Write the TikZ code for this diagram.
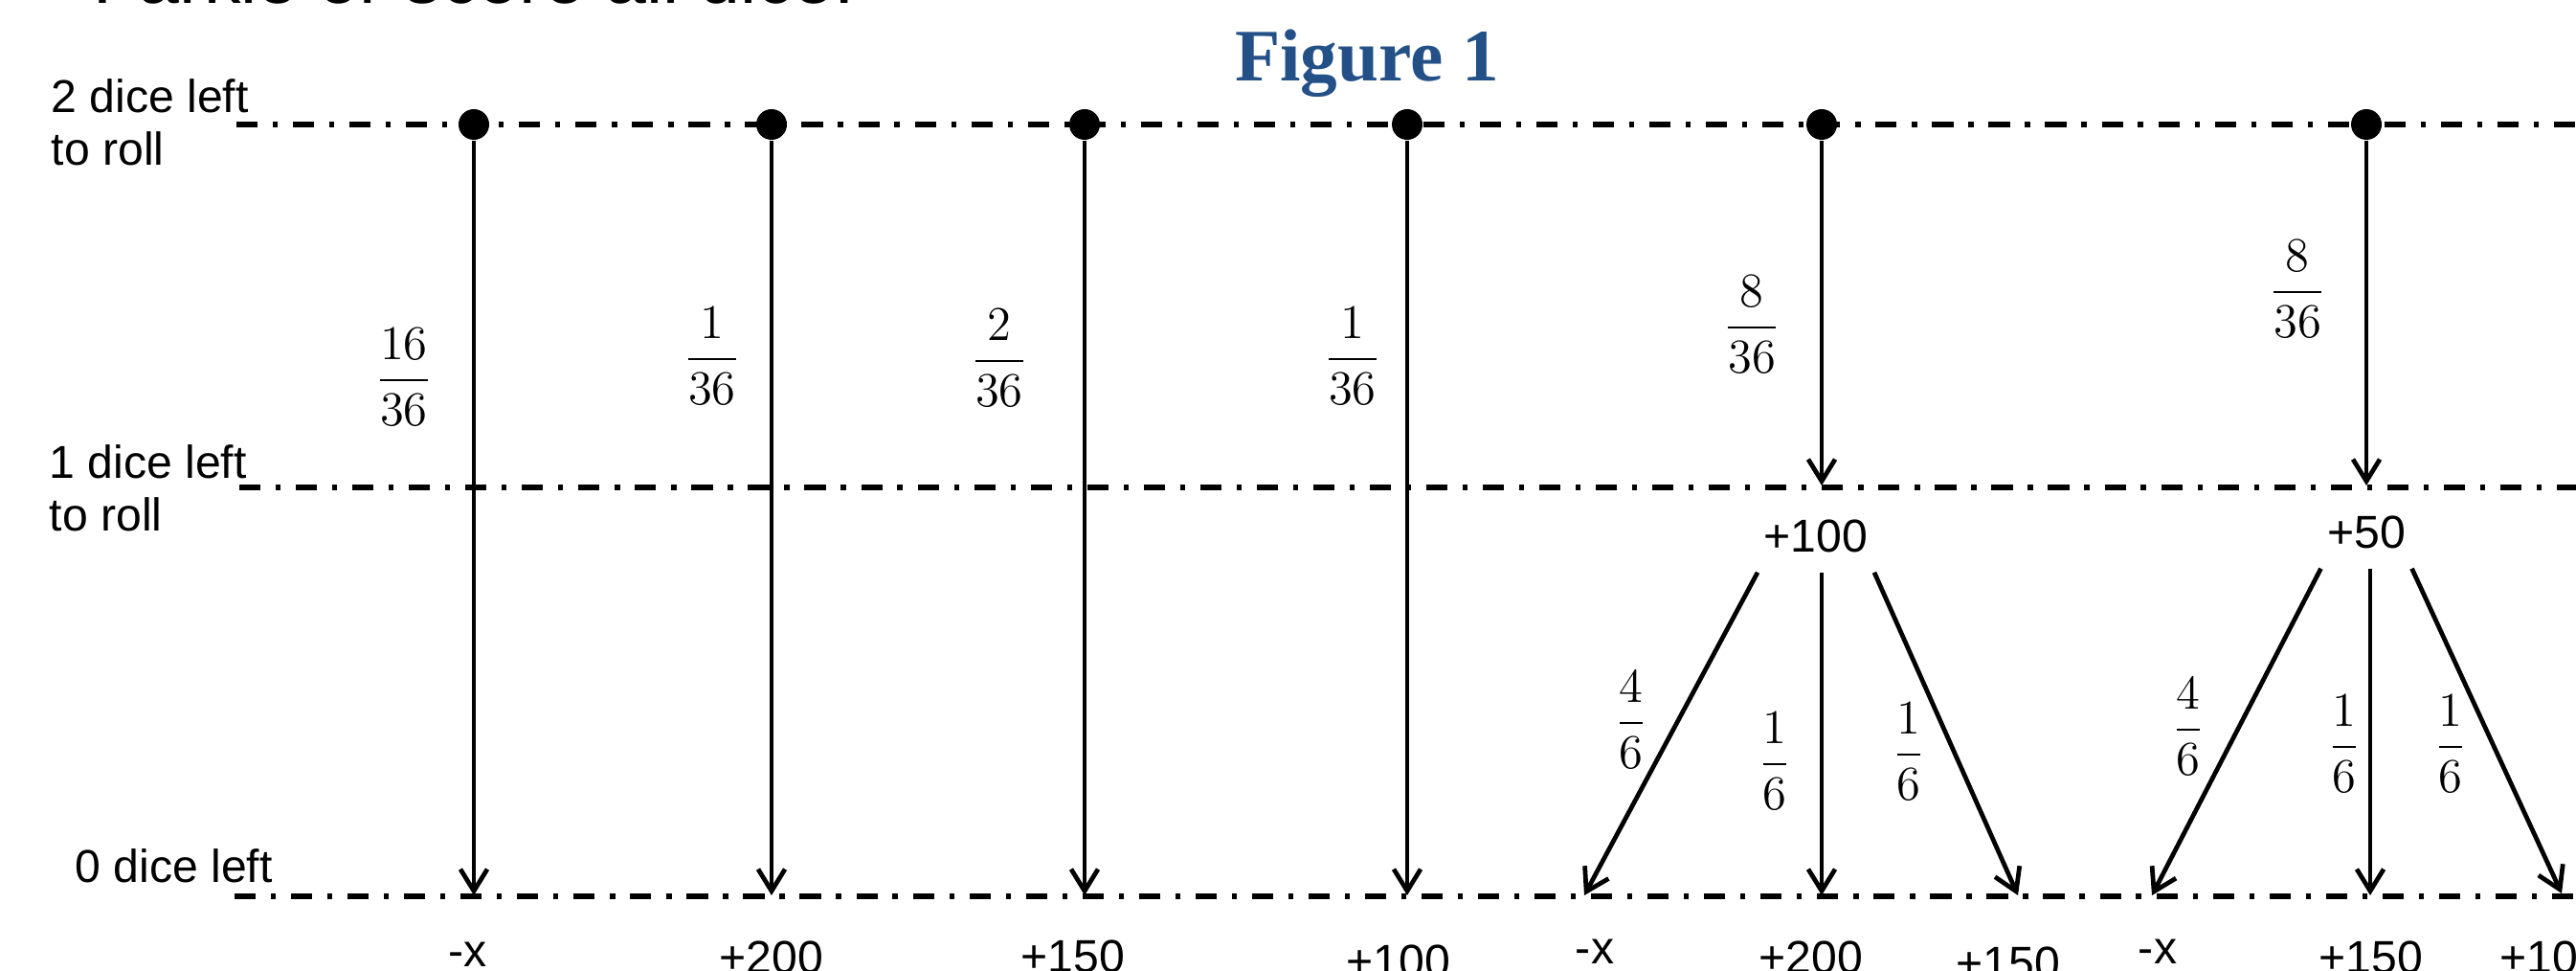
\documentclass[tikz,border=0pt]{standalone}
\usepackage{amsmath}
\usepackage{fontspec}
\setmainfont{Liberation Sans}
\newfontfamily\capfont{Liberation Serif}
\usetikzlibrary{arrows.meta}
\definecolor{figblue}{RGB}{36,80,136}

\begin{document}
\begin{tikzpicture}[
    farkDot/.style={circle,fill=black,minimum size=0.32cm,inner sep=0pt},
    farkLbl/.style={inner sep=0pt,font=\fontsize{13.7}{15.6}\selectfont},
    farkSum/.style={farkLbl,inner xsep=0.06cm,inner ysep=0.2cm},
    farkFrac/.style={inner sep=0pt,font=\fontsize{14.5}{17}\selectfont},
    farkLvl/.style={line width=1.8pt,dash pattern=on 6.3pt off 4.5pt on 1.5pt off 4.5pt},
    farkArr/.style={-{Straight Barb[length=6.5pt,width=8pt]},line width=1.35pt},
]
\useasboundingbox (0,0) rectangle (26.91,10.13);
\clip (0,0) rectangle (26.91,10.13);

% titles
\node[anchor=base west,inner sep=0pt,font=\fontsize{21.9}{26}\selectfont] (ttl) at (0.97,10.09) {Farkle or score all dice:};
\node[anchor=base,inner sep=0pt,font=\capfont\bfseries\fontsize{22}{26}\selectfont,text=figblue] (fig) at (14.28,9.28) {Figure 1};

% levels
\node[farkLbl,align=left,anchor=north west] (lv2) at (0.53,9.31) {2 dice left\\to roll};
\node[farkLbl,align=left,anchor=north west] (lv1) at (0.51,5.49) {1 dice left\\to roll};
\node[farkLbl,anchor=north west] (lv0) at (0.78,1.27) {0 dice left};
\coordinate (L2a) at (2.47,8.83); \coordinate (L2b) at (26.91,8.83);
\coordinate (L1a) at (2.50,5.04); \coordinate (L1b) at (26.91,5.04);
\coordinate (L0a) at (2.45,0.77); \coordinate (L0b) at (26.91,0.77);
\draw[farkLvl] (L2a) -- (L2b);
\draw[farkLvl] (L1a) -- (L1b);
\draw[farkLvl] (L0a) -- (L0b);

% first roll
\foreach \nm/\xx in {A/4.95,B/8.06,C/11.33,D/14.70,E/19.03,F/24.72}
  \node[farkDot] (d\nm) at (\xx,8.83) {};
\foreach \nm/\xx in {A/4.95,B/8.06,C/11.33,D/14.70}{
  \coordinate (e\nm) at (\xx,0.78);
  \draw[farkArr] (d\nm) -- (e\nm);
}
\coordinate (cE) at (19.03,5.06);
\coordinate (cF) at (24.72,5.06);
\draw[farkArr] (dE) -- (cE);
\draw[farkArr] (dF) -- (cF);

\node[farkFrac] (pA) at (4.22,6.19) {$\dfrac{16}{36}$};
\node[farkFrac] (pB) at (7.44,6.41) {$\dfrac{1}{36}$};
\node[farkFrac] (pC) at (10.44,6.39) {$\dfrac{2}{36}$};
\node[farkFrac] (pD) at (14.13,6.41) {$\dfrac{1}{36}$};
\node[farkFrac] (pE) at (18.30,6.74) {$\dfrac{8}{36}$};
\node[farkFrac] (pF) at (24.00,7.11) {$\dfrac{8}{36}$};

% second roll
\node[farkSum] (s100) at (18.97,4.53) {+100};
\node[farkSum] (s50) at (24.72,4.57) {+50};
\coordinate (k1L) at (16.55,0.78); \coordinate (k1M) at (19.03,0.78); \coordinate (k1R) at (21.08,0.78);
\coordinate (k2L) at (22.48,0.78); \coordinate (k2M) at (24.76,0.78); \coordinate (k2R) at (26.76,0.80);
\draw[farkArr] (s100.south west) -- (k1L);
\draw[farkArr] (s100.south -| k1M) -- (k1M);
\draw[farkArr] (s100.south east) -- (k1R);
\draw[farkArr] (s50.south west) -- (k2L);
\draw[farkArr] (s50.south -| k2M) -- (k2M);
\draw[farkArr] (s50.south east) -- (k2R);

\node[farkFrac] (q1L) at (17.04,2.61) {$\dfrac{4}{6}$};
\node[farkFrac] (q1M) at (18.54,2.18) {$\dfrac{1}{6}$};
\node[farkFrac] (q1R) at (19.94,2.28) {$\dfrac{1}{6}$};
\node[farkFrac] (q2L) at (22.86,2.54) {$\dfrac{4}{6}$};
\node[farkFrac] (q2M) at (24.49,2.36) {$\dfrac{1}{6}$};
\node[farkFrac] (q2R) at (25.60,2.36) {$\dfrac{1}{6}$};

% outcomes
\node[farkLbl,anchor=north] (oA) at (4.89,0.30) {-x};
\node[farkLbl,anchor=north] (oB) at (8.06,0.31) {+200};
\node[farkLbl,anchor=north] (oC) at (11.21,0.32) {+150};
\node[farkLbl,anchor=north] (oD) at (14.61,0.27) {+100};
\node[farkLbl,anchor=north] (o1L) at (16.66,0.33) {-x};
\node[farkLbl,anchor=north] (o1M) at (18.92,0.31) {+200};
\node[farkLbl,anchor=north] (o1R) at (20.98,0.25) {+150};
\node[farkLbl,anchor=north] (o2L) at (22.54,0.33) {-x};
\node[farkLbl,anchor=north] (o2M) at (24.77,0.31) {+150};
\node[farkLbl,anchor=north] (o2R) at (26.66,0.31) {+100};
\end{tikzpicture}
\end{document}
